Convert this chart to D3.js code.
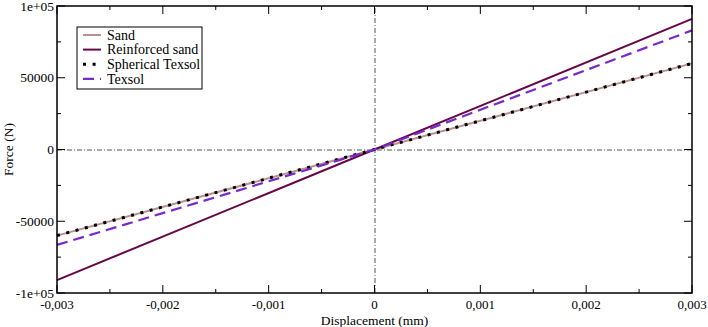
<!DOCTYPE html>
<html>
<head>
<meta charset="utf-8">
<script src="https://cdn.jsdelivr.net/npm/d3@7"></script>
<style>
  body { margin: 0; background: #fff; }
  svg text { font-family: "Liberation Serif", "Times New Roman", "DejaVu Serif", serif; }
</style>
</head>
<body>
<svg width="708" height="327"></svg>
<script>
// displacement (mm) and force (N)
const dispSand = [-0.003, 0, 0.003];
const forceSand = [-60000, 0, 60000];
const dispReinforced = [-0.003, 0, 0.003];
const forceReinforced = [-91000, 0, 91000];
const dispSpherical = [-0.003, 0, 0.003];
const forceSpherical = [-60000, 0, 60000];
const dispTexsol = [-0.003, 0, 0.003];
const forceTexsol = [-66500, 0, 83000];

const xTicks = [-0.003, -0.002, -0.001, 0, 0.001, 0.002, 0.003];
const xMinor = [-0.0025, -0.0015, -0.0005, 0.0005, 0.0015, 0.0025];
const yTicks = [-100000, -50000, 0, 50000, 100000];
const yMinor = [-75000, -25000, 25000, 75000];
const yTickLabels = ["-1e+05", "-50000", "0", "50000", "1e+05"];

const series = [
  { name: "Sand", x: dispSand, y: forceSand, color: "rgb(188,143,143)", width: 2, dash: null },
  { name: "Reinforced sand", x: dispReinforced, y: forceReinforced, color: "rgb(103,7,72)", width: 2, dash: null },
  { name: "Spherical Texsol", x: dispSpherical, y: forceSpherical, color: "#000", width: 3, dash: "3,6.6" },
  { name: "Texsol", x: dispTexsol, y: forceTexsol, color: "rgb(120,40,205)", width: 2.2, dash: "11,6" }
];

const plotL = 57, plotR = 692, plotT = 6, plotB = 293;
const svg = d3.select("svg");

const x = d3.scaleLinear().domain([-0.003, 0.003]).range([plotL, plotR]);
const y = d3.scaleLinear().domain([-100000, 100000]).range([plotB, plotT]);

// zero reference lines
const zg = svg.append("g").attr("stroke", "#555").attr("stroke-width", 1).attr("stroke-dasharray", "5,2,1,2");
zg.append("line").attr("x1", x(-0.003)).attr("x2", x(0.003)).attr("y1", y(0) + 0.5).attr("y2", y(0) + 0.5);
zg.append("line").attr("x1", x(0) + 0.5).attr("x2", x(0) + 0.5).attr("y1", y(-100000)).attr("y2", y(100000));

// series
const line = d3.line().x(d => x(d[0])).y(d => y(d[1]));
series.forEach(s => {
  svg.append("path")
    .datum(s.x.map((v, i) => [v, s.y[i]]))
    .attr("fill", "none")
    .attr("stroke", s.color)
    .attr("stroke-width", s.width)
    .attr("stroke-dasharray", s.dash)
    .attr("d", line);
});

// frame and inward ticks on all sides
svg.append("rect").attr("x", plotL).attr("y", plotT).attr("width", plotR - plotL).attr("height", plotB - plotT)
  .attr("fill", "none").attr("stroke", "#000").attr("stroke-width", 1.5);

const tickG = svg.append("g").attr("stroke", "#000").attr("stroke-width", 1);
function vTicks(vals, len) {
  vals.forEach(v => {
    tickG.append("line").attr("x1", x(v)).attr("x2", x(v)).attr("y1", plotB).attr("y2", plotB - len);
    tickG.append("line").attr("x1", x(v)).attr("x2", x(v)).attr("y1", plotT).attr("y2", plotT + len);
  });
}
function hTicks(vals, len) {
  vals.forEach(v => {
    tickG.append("line").attr("y1", y(v)).attr("y2", y(v)).attr("x1", plotL).attr("x2", plotL + len);
    tickG.append("line").attr("y1", y(v)).attr("y2", y(v)).attr("x1", plotR).attr("x2", plotR - len);
  });
}
vTicks(xTicks, 8); vTicks(xMinor, 4);
hTicks(yTicks, 8); hTicks(yMinor, 4);

// tick labels
const fmtX = d => d === 0 ? "0" : d3.format(".3f")(d).replace(".", ",").replace("−", "-");
svg.append("g").selectAll("text").data(xTicks).enter().append("text")
  .attr("x", d => x(d)).attr("y", plotB + 16)
  .attr("text-anchor", "middle").attr("font-size", "13px")
  .text(d => fmtX(d));
svg.append("g").selectAll("text").data(yTicks).enter().append("text")
  .attr("x", plotL - 3).attr("y", d => y(d) + 4.5)
  .attr("text-anchor", "end").attr("font-size", "13.5px")
  .text((d, i) => yTickLabels[i]);

// axis titles
svg.append("text").attr("x", (plotL + plotR) / 2).attr("y", 325)
  .attr("text-anchor", "middle").attr("font-size", "13.5px").text("Displacement (mm)");
svg.append("text").attr("transform", `translate(13,${(plotT + plotB) / 2}) rotate(-90)`)
  .attr("text-anchor", "middle").attr("font-size", "13.5px").text("Force (N)");

// legend
const legend = svg.append("g").attr("transform", "translate(77,27)");
legend.append("rect").attr("width", 125).attr("height", 62)
  .attr("fill", "#fff").attr("stroke", "#000").attr("stroke-width", 1);
series.forEach((s, i) => {
  const yy = 8 + i * 14.6;
  legend.append("line").attr("x1", 6).attr("x2", 24).attr("y1", yy).attr("y2", yy)
    .attr("stroke", s.color).attr("stroke-width", s.width).attr("stroke-dasharray", s.dash);
  legend.append("text").attr("x", 30).attr("y", yy + 4.8).attr("font-size", "14px").text(s.name);
});
</script>
</body>
</html>
